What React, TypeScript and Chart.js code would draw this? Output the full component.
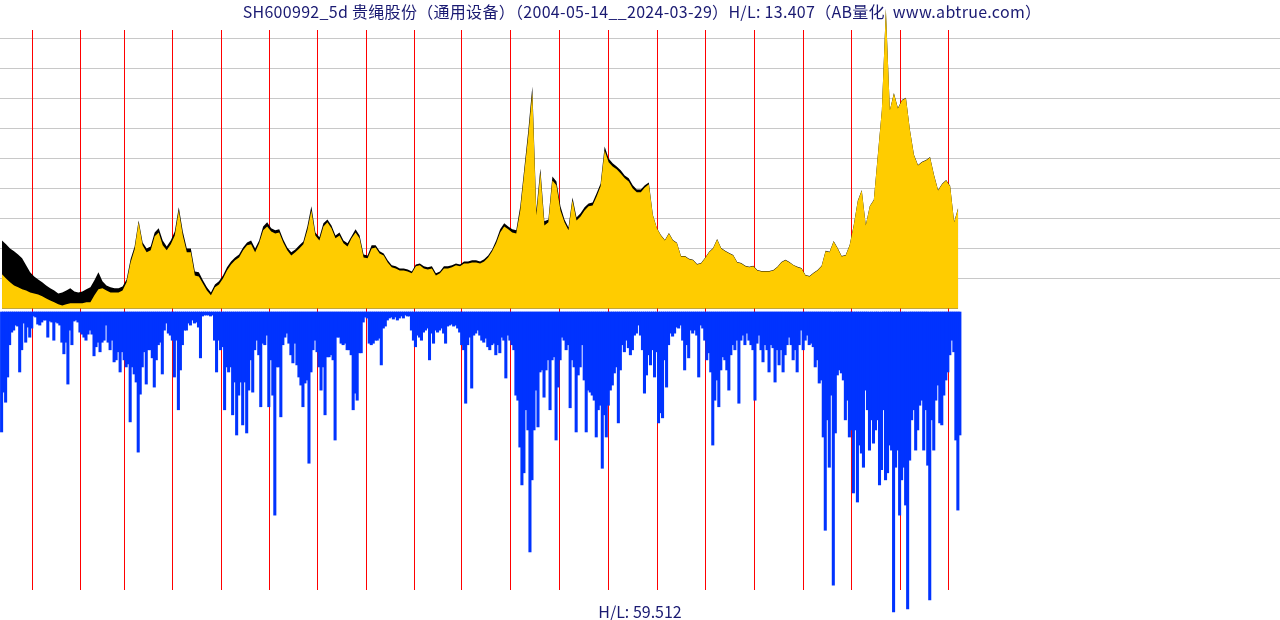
import { useEffect, useRef } from "react";
import { Chart, registerables } from "chart.js";

Chart.register(...registerables);

// ---- text ----
const TITLE = "SH600992_5d 贵绳股份（通用设备）（2004-05-14__2024-03-29）H/L: 13.407（AB量化  www.abtrue.com）";
const FOOTER = "H/L: 59.512";

// ---- data ----
// x axis = trading-week index counted from 2004-05-14
const PRICE_STEP_WEEKS = 4.3245; // one price sample per month (in trading weeks)
const VOL_STEP_WEEKS = 2.1625;   // one volume sample per half month
const PRICE_LOW = 1.0;
const PRICE_HIGH = 13.407;
const VOL_MAX = 59.512;

// first trading week of each year (week index)
const yearLabels = [
  2005, 2006, 2007, 2008, 2009, 2010, 2011, 2012, 2013, 2014,
  2015, 2016, 2017, 2018, 2019, 2020, 2021, 2022, 2023, 2024,
];
const yearStartWeeks = [
  33, 85, 132, 184, 237, 288, 340, 393, 444, 495,
  548, 600, 653, 706, 758, 810, 863, 915, 968, 1019,
];

// monthly close (relative price, low = 1)
const closes = [
  2.41, 2.24, 2.08, 1.95, 1.87, 1.79, 1.74, 1.66, 1.62, 1.58,
  1.50, 1.41, 1.33, 1.25, 1.17, 1.12, 1.17, 1.21, 1.21, 1.21,
  1.21, 1.25, 1.25, 1.54, 1.79, 1.83, 1.74, 1.66, 1.66, 1.66,
  1.74, 2.08, 2.90, 3.44, 4.56, 3.61, 3.32, 3.40, 3.98, 4.14,
  3.61, 3.40, 3.65, 4.02, 5.05, 4.02, 3.32, 3.32, 2.36, 2.32,
  2.03, 1.74, 1.54, 1.87, 1.99, 2.24, 2.57, 2.82, 2.99, 3.11,
  3.40, 3.61, 3.65, 3.32, 3.69, 4.23, 4.39, 4.18, 4.10, 4.14,
  3.73, 3.40, 3.19, 3.32, 3.48, 3.65, 4.23, 5.05, 4.02, 3.81,
  4.39, 4.56, 4.31, 3.90, 4.02, 3.69, 3.56, 3.90, 4.14, 3.90,
  3.11, 3.07, 3.48, 3.52, 3.27, 3.19, 2.90, 2.70, 2.65, 2.57,
  2.57, 2.53, 2.45, 2.74, 2.78, 2.65, 2.61, 2.65, 2.36, 2.45,
  2.65, 2.65, 2.70, 2.78, 2.74, 2.86, 2.86, 2.90, 2.90, 2.86,
  2.94, 3.11, 3.36, 3.69, 4.14, 4.39, 4.27, 4.14, 4.10, 5.05,
  6.62, 8.15, 9.93, 4.85, 6.62, 4.43, 4.56, 6.29, 6.09, 5.05,
  4.56, 4.23, 5.47, 4.64, 4.80, 5.05, 5.22, 5.26, 5.63, 6.05,
  7.53, 7.04, 6.87, 6.75, 6.58, 6.38, 6.25, 5.96, 5.80, 5.80,
  6.00, 6.13, 4.85, 4.31, 4.02, 3.81, 4.10, 3.81, 3.69, 3.15,
  3.15, 3.03, 2.99, 2.82, 2.86, 3.07, 3.32, 3.48, 3.85, 3.48,
  3.36, 3.27, 3.19, 2.90, 2.86, 2.74, 2.70, 2.74, 2.57, 2.53,
  2.53, 2.53, 2.57, 2.70, 2.90, 2.99, 2.90, 2.78, 2.70, 2.65,
  2.36, 2.32, 2.45, 2.57, 2.74, 3.36, 3.32, 3.77, 3.48, 3.15,
  3.19, 3.61, 4.43, 5.43, 5.88, 4.43, 5.22, 5.47, 7.33, 9.19,
  13.36, 9.19, 9.89, 9.27, 9.60, 9.69, 8.36, 7.33, 6.91, 7.04,
  7.12, 7.24, 6.50, 5.88, 6.13, 6.29, 6.05, 4.56, 5.14,
];

// monthly high
const highs = [
  3.81, 3.65, 3.48, 3.36, 3.23, 3.07, 2.78, 2.49, 2.32, 2.20,
  2.08, 1.95, 1.83, 1.74, 1.62, 1.66, 1.74, 1.83, 1.70, 1.66,
  1.70, 1.79, 1.87, 2.16, 2.49, 2.12, 1.95, 1.87, 1.83, 1.83,
  1.91, 2.20, 3.03, 3.56, 4.64, 3.73, 3.48, 3.56, 4.14, 4.31,
  3.81, 3.56, 3.81, 4.18, 5.18, 4.18, 3.48, 3.48, 2.53, 2.49,
  2.16, 1.87, 1.66, 1.99, 2.12, 2.36, 2.70, 2.94, 3.11, 3.23,
  3.52, 3.73, 3.81, 3.48, 3.81, 4.39, 4.56, 4.31, 4.23, 4.27,
  3.85, 3.52, 3.32, 3.44, 3.61, 3.77, 4.39, 5.22, 4.14, 3.94,
  4.52, 4.68, 4.43, 4.02, 4.14, 3.81, 3.69, 3.98, 4.27, 4.02,
  3.23, 3.19, 3.61, 3.61, 3.36, 3.27, 2.99, 2.78, 2.74, 2.65,
  2.65, 2.61, 2.53, 2.82, 2.86, 2.74, 2.70, 2.74, 2.45, 2.53,
  2.74, 2.74, 2.78, 2.86, 2.82, 2.94, 2.94, 2.99, 2.99, 2.94,
  3.03, 3.19, 3.44, 3.81, 4.27, 4.52, 4.39, 4.27, 4.23, 5.22,
  6.79, 8.36, 10.18, 5.05, 6.79, 4.60, 4.68, 6.46, 6.25, 5.22,
  4.68, 4.35, 5.59, 4.76, 4.93, 5.18, 5.34, 5.38, 5.76, 6.17,
  7.70, 7.20, 7.00, 6.87, 6.71, 6.50, 6.38, 6.09, 5.92, 5.92,
  6.09, 6.21, 4.87, 4.33, 4.04, 3.83, 4.12, 3.83, 3.71, 3.17,
  3.17, 3.05, 3.01, 2.84, 2.88, 3.09, 3.34, 3.50, 3.87, 3.50,
  3.38, 3.29, 3.21, 2.92, 2.88, 2.76, 2.72, 2.76, 2.59, 2.55,
  2.55, 2.55, 2.59, 2.72, 2.92, 3.01, 2.92, 2.80, 2.72, 2.67,
  2.38, 2.34, 2.47, 2.59, 2.76, 3.38, 3.34, 3.79, 3.50, 3.17,
  3.21, 3.63, 4.45, 5.45, 5.90, 4.45, 5.24, 5.49, 7.35, 9.21,
  13.407, 9.21, 9.91, 9.29, 9.62, 9.71, 8.38, 7.35, 6.93, 7.06,
  7.14, 7.26, 6.52, 5.90, 6.15, 6.31, 6.07, 4.58, 5.16,
];

// half-monthly volume (relative, min ~ 1)
const volumes = [
  23.8, 15.9, 17.9, 12.9, 6.5, 4.0, 3.6, 2.6, 2.8, 11.9, 7.5, 2.2, 6.0, 3.0, 5.0, 3.2, 0.8, 1.0, 2.4, 2.6, 2.0, 1.6, 1.6, 5.0, 1.8, 2.0, 5.6, 2.0, 2.2, 2.6,
  6.0, 8.3, 6.0, 14.3, 3.6, 6.5, 1.8, 1.6, 2.0, 4.0, 4.4, 5.0, 5.6, 4.4, 3.6, 4.4, 8.7, 6.9, 6.0, 7.9, 6.0, 5.6, 2.6, 6.0, 7.5, 5.6, 9.9, 9.5, 7.9, 11.9,
  7.9, 9.5, 10.9, 10.3, 21.8, 10.9, 12.3, 13.9, 27.8, 16.3, 10.9, 7.9, 14.3, 7.5, 7.5, 9.1, 14.9, 9.5, 6.5, 6.0, 12.3, 3.6, 2.2, 4.2, 4.6, 5.6, 12.9, 5.6, 19.4, 11.5,
  6.5, 3.6, 3.6, 2.2, 2.6, 1.6, 2.2, 2.0, 3.0, 9.1, 0.8, 0.6, 0.6, 0.6, 0.8, 0.6, 5.6, 11.9, 5.6, 7.5, 6.9, 19.4, 10.9, 11.9, 10.9, 20.4, 13.9, 24.4, 16.5, 13.9,
  22.4, 13.9, 24.0, 15.5, 9.5, 15.9, 7.5, 5.6, 8.5, 18.8, 6.2, 6.5, 4.6, 18.8, 9.5, 16.5, 40.3, 10.9, 10.9, 20.8, 6.5, 5.0, 4.2, 6.2, 8.5, 10.1, 6.2, 10.5, 12.9, 14.5,
  18.8, 14.1, 13.5, 30.0, 11.9, 7.5, 5.6, 7.9, 10.9, 15.5, 10.9, 20.4, 8.9, 8.9, 8.5, 9.5, 25.4, 5.0, 5.0, 6.2, 6.5, 6.2, 7.5, 7.5, 8.5, 19.4, 16.1, 17.5, 8.1, 8.1,
  2.0, 1.0, 1.2, 6.2, 6.5, 6.2, 5.6, 5.6, 5.2, 10.5, 3.2, 2.8, 1.6, 1.2, 1.0, 1.4, 1.0, 1.6, 1.2, 0.8, 1.2, 0.6, 0.8, 0.8, 3.6, 5.6, 6.9, 4.6, 5.0, 5.6,
  4.0, 3.6, 3.2, 9.5, 4.2, 6.2, 3.6, 4.0, 3.6, 3.2, 4.2, 6.2, 2.8, 2.6, 2.4, 2.8, 2.6, 3.2, 4.0, 6.5, 7.5, 18.1, 6.5, 5.0, 15.1, 4.6, 4.2, 3.6, 4.6, 5.6,
  6.0, 5.2, 6.9, 7.5, 6.5, 6.2, 8.5, 6.5, 8.1, 5.0, 5.6, 13.1, 4.6, 5.6, 6.5, 7.5, 16.5, 17.5, 26.8, 34.3, 31.9, 19.4, 23.4, 47.6, 33.3, 23.4, 15.5, 22.8, 11.9, 11.5,
  16.9, 11.5, 9.5, 19.4, 9.5, 8.9, 25.4, 14.9, 9.5, 5.0, 5.6, 7.5, 6.5, 19.0, 9.5, 10.9, 23.8, 12.5, 10.9, 6.5, 13.5, 23.8, 15.5, 15.9, 16.5, 17.5, 24.8, 19.4, 18.5, 31.0,
  20.4, 24.8, 18.5, 15.5, 14.5, 12.1, 10.9, 22.0, 11.5, 6.5, 7.9, 5.6, 7.1, 8.5, 7.5, 4.6, 4.2, 2.6, 4.6, 7.5, 16.1, 12.5, 8.5, 10.5, 7.5, 12.9, 7.9, 22.0, 20.0, 21.0,
  9.5, 14.9, 6.5, 4.2, 4.8, 4.2, 3.0, 3.2, 2.6, 5.6, 11.5, 6.5, 9.1, 3.6, 4.2, 3.6, 4.6, 12.9, 2.6, 3.2, 5.6, 9.5, 8.1, 11.9, 26.4, 17.5, 13.5, 18.8, 11.5, 8.9,
  9.5, 11.5, 15.5, 8.5, 6.5, 7.5, 5.6, 18.1, 5.6, 4.6, 6.5, 4.2, 5.6, 6.5, 7.5, 17.5, 6.2, 4.6, 7.5, 9.9, 6.5, 7.5, 11.9, 6.5, 7.1, 13.9, 7.5, 10.5, 7.5, 11.9,
  8.5, 6.5, 5.0, 6.5, 9.5, 7.5, 11.9, 6.5, 3.6, 7.5, 5.6, 4.6, 6.5, 6.2, 6.9, 10.9, 9.5, 14.1, 13.5, 24.8, 43.3, 21.4, 30.8, 16.5, 54.2, 24.0, 12.5, 11.5, 12.1, 13.5,
  21.4, 17.5, 24.8, 23.4, 35.9, 23.4, 37.7, 26.4, 28.0, 30.8, 15.5, 19.4, 27.4, 21.4, 26.0, 23.4, 21.4, 34.3, 31.3, 19.4, 33.3, 31.9, 26.4, 27.4, 59.512, 30.8, 27.4, 40.3, 33.3, 30.8,
  38.3, 58.9, 29.4, 21.4, 19.4, 27.4, 23.4, 18.5, 17.5, 27.4, 19.4, 30.4, 57.1, 21.4, 27.4, 17.5, 14.5, 22.0, 22.4, 16.5, 13.5, 11.9, 8.5, 5.6, 7.9, 25.4, 39.3, 24.4,
];

// ---- layout / style ----
const W = 1280;
const H = 620;
const X_OFFSET_PX = 1.6;
const PX_PER_WEEK = 0.929;
const X_MIN = -X_OFFSET_PX / PX_PER_WEEK;
const X_MAX = (W - X_OFFSET_PX) / PX_PER_WEEK;
const PRICE_BASE_PX = 308.4;
const PRICE_TOP_PX = 8.4;
const VOL_BASE_PX = 312;
const VOL_BOTTOM_PX = 612;
const LINE_TOP = 30;
const LINE_BOTTOM = 590;

const pxPerPrice = (PRICE_BASE_PX - PRICE_TOP_PX) / (PRICE_HIGH - PRICE_LOW);
const pxPerVol = (VOL_BOTTOM_PX - VOL_BASE_PX) / VOL_MAX;

const priceWeek = (i: number) => 0.45 + i * PRICE_STEP_WEEKS;
const volWeek = (k: number) => k * VOL_STEP_WEEKS;

const gridLevels = [1, 2, 3, 4, 5, 6, 7, 8, 9].map(
  (k) => PRICE_LOW + (k * (PRICE_HIGH - PRICE_LOW)) / 10
);

const backdrop = {
  id: "backdrop",
  beforeDatasetsDraw(chart: any) {
    const { ctx, chartArea, scales } = chart;
    const xs = scales.x;
    const yp = scales.yp;
    ctx.save();
    ctx.lineWidth = 1;
    ctx.strokeStyle = "#c8c8c8";
    for (const v of gridLevels) {
      const py = Math.floor(yp.getPixelForValue(v)) + 0.5;
      ctx.beginPath();
      ctx.moveTo(chartArea.left, py);
      ctx.lineTo(chartArea.right, py);
      ctx.stroke();
    }
    ctx.strokeStyle = "#ff0000";
    yearLabels.forEach((_, i) => {
      const px = Math.floor(xs.getPixelForValue(yearStartWeeks[i])) + 0.5;
      ctx.beginPath();
      ctx.moveTo(px, LINE_TOP);
      ctx.lineTo(px, LINE_BOTTOM);
      ctx.stroke();
    });
    ctx.restore();
  },
};

export default function App() {
  const ref = useRef<HTMLCanvasElement>(null);

  useEffect(() => {
    if (!ref.current) return;
    const closeData = closes.map((v, i) => ({ x: priceWeek(i), y: v }));
    const highData = highs.map((v, i) => ({ x: priceWeek(i), y: v }));
    const volData = volumes.map((v, k) => ({ x: volWeek(k), y: v }));

    const chart = new Chart(ref.current, {
      type: "line",
      data: {
        datasets: [
          {
            label: "close",
            data: closeData,
            yAxisID: "yp",
            order: 1,
            borderWidth: 0,
            borderColor: "rgba(0,0,0,0)",
            backgroundColor: "#ffcc00",
            pointRadius: 0,
            tension: 0,
            fill: { value: PRICE_LOW },
          },
          {
            label: "high",
            data: highData,
            yAxisID: "yp",
            order: 2,
            borderWidth: 0,
            borderColor: "rgba(0,0,0,0)",
            backgroundColor: "#000000",
            pointRadius: 0,
            tension: 0,
            fill: { value: PRICE_LOW },
          },
          {
            type: "bar",
            label: "volume",
            data: volData,
            yAxisID: "yv",
            order: 3,
            backgroundColor: "#0033ff",
            borderWidth: 0,
            barThickness: 2.4,
            grouped: false,
          } as any,
        ],
      },
      options: {
        responsive: false,
        animation: false,
        devicePixelRatio: 1,
        layout: { padding: 0 },
        plugins: {
          legend: { display: false },
          tooltip: { enabled: false },
          title: { display: false },
        },
        scales: {
          x: { type: "linear", display: false, offset: false, bounds: "data", min: X_MIN, max: X_MAX },
          yp: {
            type: "linear",
            display: false,
            offset: false,
            min: PRICE_LOW - (H - PRICE_BASE_PX) / pxPerPrice,
            max: PRICE_LOW + PRICE_BASE_PX / pxPerPrice,
          },
          yv: {
            type: "linear",
            display: false,
            offset: false,
            reverse: true,
            min: -VOL_BASE_PX / pxPerVol,
            max: (H - VOL_BASE_PX) / pxPerVol,
          },
        },
      },
      plugins: [backdrop],
    } as any);

    return () => chart.destroy();
  }, []);

  const textStyle: any = {
    position: "absolute",
    left: 0,
    width: W,
    textAlign: "center",
    fontFamily: "'Noto Sans CJK SC', 'Noto Sans', sans-serif",
    fontSize: 16,
    lineHeight: "22px",
    color: "#1a1a72",
    whiteSpace: "pre",
  };

  return (
    <div style={{ position: "fixed", left: 0, top: 0, width: W, height: H, background: "#ffffff" }}>
      <canvas ref={ref} width={W} height={H} style={{ position: "absolute", left: 0, top: 0 }} />
      <div style={{ ...textStyle, top: 0, left: 2, letterSpacing: "0.3px" }}>{TITLE}</div>
      <div style={{ ...textStyle, top: 600 }}>{FOOTER}</div>
    </div>
  );
}
